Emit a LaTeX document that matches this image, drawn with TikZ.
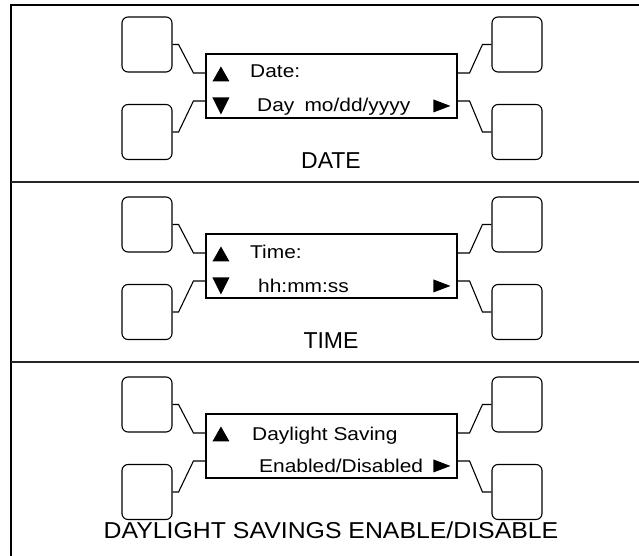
\documentclass[tikz,border=0pt]{standalone}
\usepackage{fontspec}
\setmainfont{Liberation Sans}
\usetikzlibrary{calc}

\tikzset{
  keybox/.style={draw, rounded corners=6pt, minimum width=50pt, minimum height=55pt, inner sep=0pt, line width=1.1pt},
  lcdbox/.style={draw, minimum width=251pt, minimum height=64pt, inner sep=0pt, line width=1.1pt},
  lcdtext/.style={anchor=base west, inner sep=0pt, font=\fontsize{18.5}{22}\selectfont, xscale=1.13},
  caption/.style={anchor=base, inner sep=0pt, font=\fontsize{23}{28}\selectfont},
  wire/.style={line width=1.1pt},
}

\begin{document}
\begin{tikzpicture}[x=1pt, y=-1pt]
    \useasboundingbox (0,0) rectangle (639,556);

    % Outer frame and dividers
    \draw[line width=2.5pt] (11,556) -- (11,5) -- (639,5);
    \draw[line width=1.5pt, black!85] (11,182) -- (639,182);
    \draw[line width=1.5pt, black!85] (11,362) -- (639,362);

    % Keys, display and wires of each panel
    \foreach \p [count=\i] in {0,180,360} {
        \node[keybox] (ul\i) at (147,44.5+\p) {};
        \node[keybox] (ll\i) at (147,132+\p) {};
        \node[keybox] (ur\i) at (517,44.5+\p) {};
        \node[keybox] (lr\i) at (517,132+\p) {};
        \node[lcdbox] (lcd\i) at (331.5,86+\p) {};

        \coordinate (lu\i) at ($(lcd\i.north west)!0.3!(lcd\i.south west)$);
        \coordinate (lb\i) at ($(lcd\i.north west)!0.73!(lcd\i.south west)$);
        \coordinate (ru\i) at ($(lcd\i.north east)!0.3!(lcd\i.south east)$);
        \coordinate (rb\i) at ($(lcd\i.north east)!0.73!(lcd\i.south east)$);

        \draw[wire] (ul\i.east) -- ++(6,0) -- ([xshift=-12pt]lu\i) -- (lu\i);
        \draw[wire] (ll\i.east) -- ++(6,0) -- ([xshift=-12pt]lb\i) -- (lb\i);
        \draw[wire] (ur\i.west) -- ++(-9,0) -- ([xshift=12pt]ru\i) -- (ru\i);
        \draw[wire] (lr\i.west) -- ++(-9,0) -- ([xshift=12pt]rb\i) -- (rb\i);

        % up and right arrows
        \fill ($(lcd\i.north west)+(7,28)$) -- ($(lcd\i.north west)+(24,28)$) -- ($(lcd\i.north west)+(15.5,13)$) -- cycle;
        \fill ($(lcd\i.north west)+(228,46)$) -- ($(lcd\i.north west)+(228,59)$) -- ($(lcd\i.north west)+(245,52.5)$) -- cycle;
    }

    % Down arrows (date and time only)
    \foreach \i in {1,2} {
        \fill ($(lcd\i.north west)+(7,44)$) -- ($(lcd\i.north west)+(24,44)$) -- ($(lcd\i.north west)+(15.5,61)$) -- cycle;
    }

    % Date panel
    \node[lcdtext] (datehead) at (250,78) {Date:};
    \node[lcdtext] (dateval) at (257,112) {Day\hspace{9pt}mo/dd/yyyy};
    \node[caption] (datecap) at (331,168) {DATE};

    % Time panel
    \node[lcdtext] (timehead) at (250,258) {Time:};
    \node[lcdtext] (timeval) at (258,292) {hh:mm:ss};
    \node[caption] (timecap) at (331,348) {TIME};

    % Daylight saving panel
    \node[lcdtext] (dsthead) at (252,440) {Daylight Saving};
    \node[lcdtext] (dstval) at (259,472) {Enabled/Disabled};
    \node[caption, xscale=1.08] (dstcap) at (331,538) {DAYLIGHT SAVINGS ENABLE/DISABLE};
\end{tikzpicture}
\end{document}
